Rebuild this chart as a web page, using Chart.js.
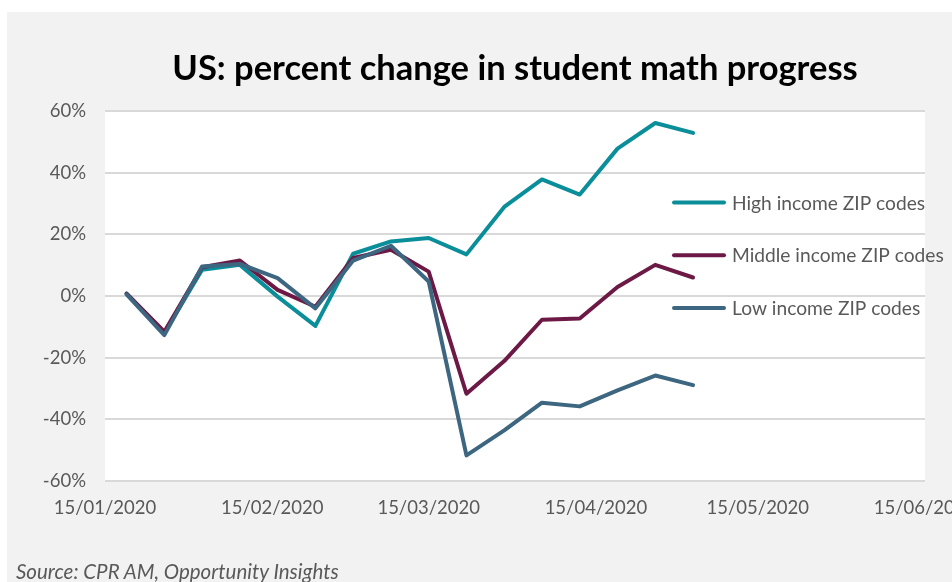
<!DOCTYPE html>
<html>
<head>
<meta charset="utf-8">
<script src="https://cdn.jsdelivr.net/npm/chart.js@4.4.1/dist/chart.umd.min.js"></script>
<style>
  html, body { margin: 0; padding: 0; background: #ffffff; }
  #wrap { position: relative; width: 952px; height: 582px; overflow: hidden; }
  #panel { position: absolute; left: 7px; top: 12px; right: 0; bottom: 0; background: #f2f2f2; }
  #box { position: absolute; left: 0; top: 0; width: 952px; height: 582px; }
  #source { position: absolute; left: 16px; top: 561px; font-family: Lato, sans-serif; font-style: italic;
            font-size: 20.5px; line-height: 20px; color: #595959; white-space: nowrap; }
</style>
</head>
<body>
<div id="wrap">
  <div id="panel"></div>
  <div id="box"><canvas id="c"></canvas></div>
  <div id="source">Source: CPR AM, Opportunity Insights</div>
</div>
<script>
// ---- data ----
const titleText = 'US: percent change in student math progress';
const dates = ['2020-01-19','2020-01-26','2020-02-02','2020-02-09','2020-02-16','2020-02-23','2020-03-01','2020-03-08',
               '2020-03-15','2020-03-22','2020-03-29','2020-04-05','2020-04-12','2020-04-19','2020-04-26','2020-05-03'];
const highIncome   = [0.8, -12.0, 8.5, 10.1, -0.2, -9.7, 13.7, 17.7, 18.8, 13.5, 28.9, 37.8, 32.9, 47.8, 56.1, 52.9];
const middleIncome = [0.8, -11.6, 9.3, 11.5, 2.0, -3.5, 12.3, 15.0, 7.9, -31.7, -21.1, -7.7, -7.3, 2.9, 10.1, 6.0];
const lowIncome    = [0.5, -12.7, 9.6, 10.4, 5.8, -4.0, 11.5, 16.3, 4.7, -51.7, -43.6, -34.6, -35.8, -30.6, -25.8, -28.9];
const seriesNames  = ['High income ZIP codes', 'Middle income ZIP codes', 'Low income ZIP codes'];
const seriesColors = ['#0a8e99', '#6c1a45', '#3d6680'];
const xTickDates   = ['2020-01-15','2020-02-15','2020-03-15','2020-04-15','2020-05-15','2020-06-15'];
const yMin = -60, yMax = 60, yStep = 20;

// ---- helpers ----
const DAY = 86400000;
const dayNum = s => Date.parse(s) / DAY;
const fmtDate = n => { const d = new Date(n * DAY);
  const p = v => String(v).padStart(2, '0');
  return p(d.getUTCDate()) + '/' + p(d.getUTCMonth() + 1) + '/' + d.getUTCFullYear(); };
const toPoints = arr => arr.map((v, i) => ({ x: dayNum(dates[i]), y: v }));

const TXT = '#595959';
const FONT = 'Lato, sans-serif';

const plotBg = {
  id: 'plotBg',
  beforeDraw(chart) {
    const { ctx, chartArea: a } = chart;
    ctx.save(); ctx.fillStyle = '#ffffff';
    ctx.fillRect(a.left, a.top, a.right - a.left, a.bottom - a.top);
    ctx.restore();
  }
};

const sideLegend = {
  id: 'sideLegend',
  afterDatasetsDraw(chart) {
    const { ctx, chartArea: a } = chart;
    ctx.save();
    ctx.font = '19.2px ' + FONT;
    ctx.textBaseline = 'middle';
    ctx.textAlign = 'left';
    chart.data.datasets.forEach((ds, i) => {
      const y = a.top + 91.5 + i * 52.7;
      const x0 = a.left + 567;
      ctx.strokeStyle = ds.borderColor; ctx.lineWidth = 4; ctx.lineCap = 'round';
      ctx.beginPath(); ctx.moveTo(x0 + 2, y); ctx.lineTo(x0 + 52, y); ctx.stroke();
      ctx.fillStyle = TXT;
      ctx.fillText(ds.label, x0 + 60, y + 1);
    });
    ctx.restore();
  }
};

const series = [highIncome, middleIncome, lowIncome];
new Chart(document.getElementById('c'), {
  type: 'line',
  data: {
    datasets: series.map((arr, i) => ({
      label: seriesNames[i],
      data: toPoints(arr),
      borderColor: seriesColors[i],
      backgroundColor: seriesColors[i],
      borderWidth: 4,
      pointRadius: 0,
      tension: 0,
      borderCapStyle: 'round',
      borderJoinStyle: 'round',
      order: 3 - i
    }))
  },
  options: {
    responsive: true,
    maintainAspectRatio: false,
    animation: false,
    layout: { padding: { left: 0, right: 27, top: 0, bottom: 0 } },
    plugins: {
      legend: { display: false },
      tooltip: { enabled: false },
      title: {
        display: true, text: titleText, color: '#000000', fullSize: false,
        font: { family: FONT, size: 34.5, weight: 'bold', lineHeight: 1.2 },
        padding: { top: 47.8, bottom: 21.8 }
      }
    },
    scales: {
      x: {
        type: 'linear',
        min: dayNum(xTickDates[0]),
        max: dayNum(xTickDates[xTickDates.length - 1]),
        grid: { display: false, drawTicks: false },
        border: { display: false },
        afterBuildTicks: s => { s.ticks = xTickDates.map(d => ({ value: dayNum(d) })); },
        afterFit: s => { s.height = 101; s.paddingLeft = 0; s.paddingRight = 0; },
        ticks: {
          autoSkip: false, maxRotation: 0, minRotation: 0, padding: 16,
          color: TXT, font: { family: FONT, size: 18.5 },
          callback: v => fmtDate(v)
        }
      },
      y: {
        min: yMin, max: yMax,
        grid: { color: '#d9d9d9', lineWidth: 2, drawTicks: false },
        border: { display: false },
        afterFit: s => { s.width = 105; s.paddingTop = 0; s.paddingBottom = 0; },
        ticks: {
          stepSize: yStep, padding: 19,
          color: TXT, font: { family: FONT, size: 18.5 },
          callback: v => v + '%'
        }
      }
    }
  },
  plugins: [plotBg, sideLegend]
});
</script>
</body>
</html>
